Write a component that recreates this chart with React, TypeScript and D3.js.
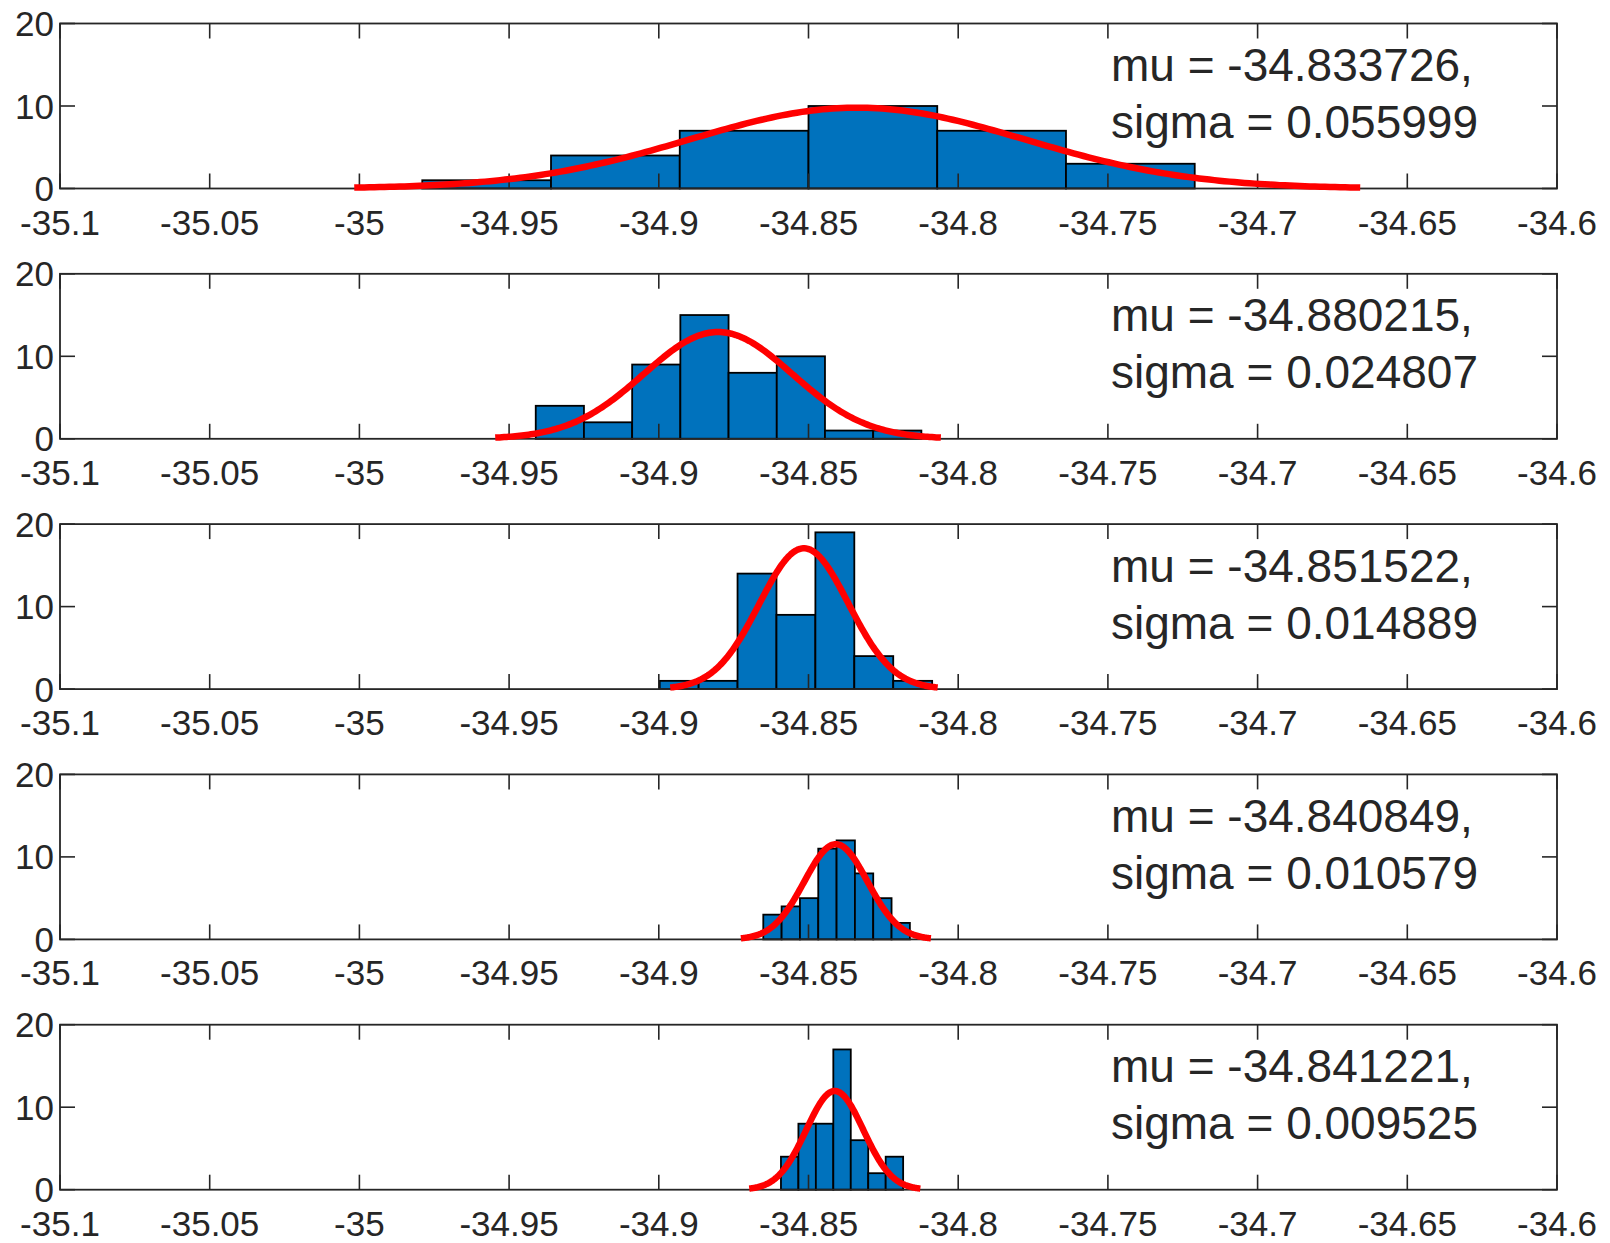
import React from "react";
import * as d3 from "d3";

// ---- data ----
const xTicks = [-35.1, -35.05, -35, -34.95, -34.9, -34.85, -34.8, -34.75, -34.7, -34.65, -34.6];
const xTickLabels = ["-35.1", "-35.05", "-35", "-34.95", "-34.9", "-34.85", "-34.8", "-34.75", "-34.7", "-34.65", "-34.6"];
const yTicks = [0, 10, 20];
const yTickLabels = ["0", "10", "20"];

const binStarts = [-34.979, -34.9411, -34.8997, -34.8651, -34.8592];
const binWidths = [0.0430, 0.0161, 0.0130, 0.00612, 0.00583];

const counts1 = [1, 4, 7, 10, 7, 3];
const counts2 = [4, 2, 9, 15, 8, 10, 1, 1];
const counts3 = [1, 1, 14, 9, 19, 4, 1];
const counts4 = [3, 4, 5, 11, 12, 8, 5, 2];
const counts5 = [4, 8, 8, 17, 6, 2, 4];
const allCounts = [counts1, counts2, counts3, counts4, counts5];

const mus = [-34.833726, -34.880215, -34.851522, -34.840849, -34.841221];
const sigmas = [0.055999, 0.024807, 0.014889, 0.010579, 0.009525];
const muLabels = ["mu = -34.833726,", "mu = -34.880215,", "mu = -34.851522,", "mu = -34.840849,", "mu = -34.841221,"];
const sigmaLabels = ["sigma = 0.055999", "sigma = 0.024807", "sigma = 0.014889", "sigma = 0.010579", "sigma = 0.009525"];

// ---- layout ----
const W = 1610;
const H = 1243;
const LEFT = 60;
const RIGHT = 1557;
const TOP0 = 23.5;
const PITCH = 250.3;
const PH = 165;
const TICK = 15;
const AXIS_COLOR = "#262626";
const FONT = "'Liberation Sans', Arial, Helvetica, sans-serif";

const x = d3.scaleLinear().domain([-35.1, -34.6]).range([LEFT, RIGHT]);

function Panel({ i }: { i: number }) {
  const top = TOP0 + i * PITCH;
  const bottom = top + PH;
  const y = d3.scaleLinear().domain([0, 20]).range([bottom, top]);
  const counts = allCounts[i];
  const w = binWidths[i];
  const start = binStarts[i];
  const n = d3.sum(counts);
  const mu = mus[i];
  const sd = sigmas[i];
  const area = n * w;
  const xs = d3.range(0, 201).map((k) => mu - 3 * sd + (6 * sd * k) / 200);
  const pdf = (v: number) => (area / (sd * Math.sqrt(2 * Math.PI))) * Math.exp(-0.5 * ((v - mu) / sd) ** 2);
  const line = d3
    .line<number>()
    .x((v) => x(v))
    .y((v) => y(pdf(v)))
    .curve(d3.curveLinear);

  return (
    <g>
      {counts.map((c, k) => {
        const x0 = x(start + k * w);
        const x1 = x(start + (k + 1) * w);
        return (
          <rect
            key={k}
            x={x0}
            y={y(c)}
            width={x1 - x0}
            height={y(0) - y(c)}
            fill="#0072BD"
            stroke="#000"
            strokeWidth={1.8}
          />
        );
      })}
      {/* axes box */}
      <rect x={LEFT} y={top} width={RIGHT - LEFT} height={PH} fill="none" stroke={AXIS_COLOR} strokeWidth={1.8} />
      {xTicks.map((t, k) => (
        <g key={"xt" + k}>
          <line x1={x(t)} x2={x(t)} y1={bottom} y2={bottom - TICK} stroke={AXIS_COLOR} strokeWidth={1.6} />
          <line x1={x(t)} x2={x(t)} y1={top} y2={top + TICK} stroke={AXIS_COLOR} strokeWidth={1.6} />
          <text
            x={x(t)}
            y={bottom + 46}
            textAnchor="middle"
            fontFamily={FONT}
            fontSize={35}
            fill={AXIS_COLOR}
          >
            {xTickLabels[k]}
          </text>
        </g>
      ))}
      {yTicks.map((t, k) => (
        <g key={"yt" + k}>
          <line x1={LEFT} x2={LEFT + TICK} y1={y(t)} y2={y(t)} stroke={AXIS_COLOR} strokeWidth={1.6} />
          <line x1={RIGHT} x2={RIGHT - TICK} y1={y(t)} y2={y(t)} stroke={AXIS_COLOR} strokeWidth={1.6} />
          <text
            x={LEFT - 6}
            y={y(t) + 12.5}
            textAnchor="end"
            fontFamily={FONT}
            fontSize={35}
            fill={AXIS_COLOR}
          >
            {yTickLabels[k]}
          </text>
        </g>
      ))}
      <path d={line(xs) || ""} fill="none" stroke="#FF0000" strokeWidth={6.5} strokeLinejoin="round" />
      <text x={1111} y={top + 57.5} fontFamily={FONT} fontSize={46} fill={AXIS_COLOR}>
        {muLabels[i]}
      </text>
      <text x={1111} y={top + 114.5} fontFamily={FONT} fontSize={46} fill={AXIS_COLOR}>
        {sigmaLabels[i]}
      </text>
    </g>
  );
}

export default function App() {
  return (
    <svg
      width={W}
      height={H}
      viewBox={`0 0 ${W} ${H}`}
      style={{ position: "absolute", left: 0, top: 0, background: "#fff" }}
    >
      <rect x={0} y={0} width={W} height={H} fill="#fff" />
      {[0, 1, 2, 3, 4].map((i) => (
        <Panel key={i} i={i} />
      ))}
    </svg>
  );
}
